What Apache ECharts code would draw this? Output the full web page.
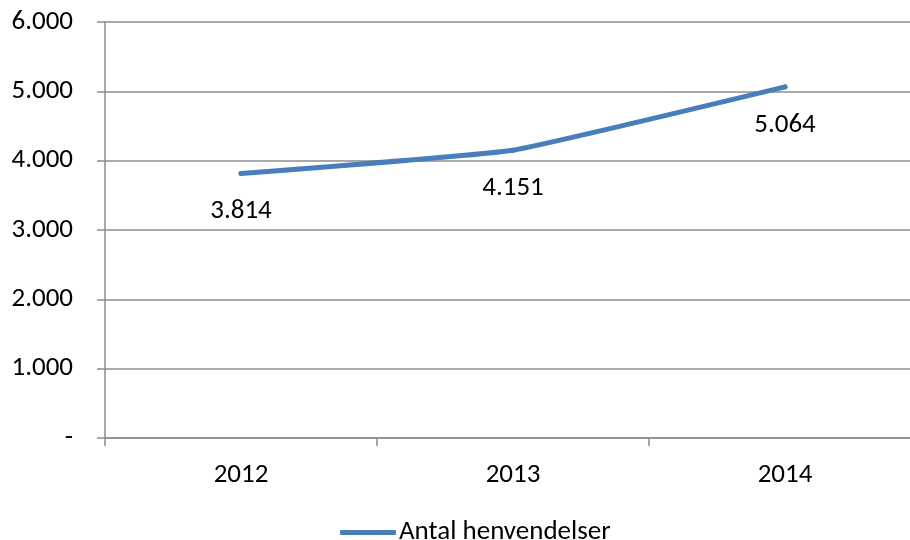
<!DOCTYPE html>
<html>
<head>
<meta charset="utf-8">
<script src="https://cdn.jsdelivr.net/npm/echarts@6/dist/echarts.min.js"></script>
<style>
  html, body { margin: 0; padding: 0; background: #fff; }
  #chart { width: 910px; height: 540px; }
</style>
</head>
<body>
<div id="chart"></div>
<script>
// data
const years = ['2012', '2013', '2014']
const henvendelser = [3814, 4151, 5064]
const seriesName = 'Antal henvendelser'

const font = 'Carlito, Lato, sans-serif'
const grey = '#8c8c8c'
const blue = '#4a7ebb'
const fs = 27

// dansk talformat: 3.814
function fmt(v) {
  if (v === 0) return '-'
  return String(v).replace(/\B(?=(\d{3})+(?!\d))/g, '.')
}

const chart = echarts.init(document.getElementById('chart'))
chart.setOption({
  animation: false,
  grid: { left: 105, top: 22, width: 816, height: 416, containLabel: false, outerBoundsMode: 'none' },
  legend: {
    top: 519,
    left: 340,
    padding: 0,
    data: [{ name: seriesName, icon: 'roundRect', itemStyle: { color: blue, opacity: 1 } }],
    itemWidth: 56,
    itemHeight: 5,
    textStyle: { fontFamily: font, fontSize: fs, color: '#000', padding: [0, 0, 0, -2] }
  },
  xAxis: {
    type: 'category',
    data: years,
    boundaryGap: true,
    axisLine: { lineStyle: { color: grey, width: 1.5 } },
    axisTick: { show: true, length: 8, lineStyle: { color: grey, width: 1.5 } },
    axisLabel: { fontFamily: font, fontSize: fs, color: '#000', margin: 24 }
  },
  yAxis: {
    type: 'value',
    min: 0,
    max: 6000,
    interval: 1000,
    axisLine: { show: true, lineStyle: { color: grey, width: 1.5 } },
    axisTick: { show: true, length: 8, lineStyle: { color: grey, width: 1.5 } },
    splitLine: { lineStyle: { color: grey, width: 1.5 } },
    axisLabel: {
      fontFamily: font, fontSize: fs, color: '#000', margin: 32,
      formatter: fmt
    }
  },
  series: [{
    name: seriesName,
    type: 'line',
    data: henvendelser,
    symbol: 'circle',
    symbolSize: 5,
    showSymbol: true,
    smooth: 0.1,
    lineStyle: { color: blue, width: 5, cap: 'round' },
    itemStyle: { color: blue },
    label: {
      show: true,
      position: 'bottom',
      distance: 22,
      fontFamily: font,
      fontSize: fs,
      color: '#000',
      formatter: p => fmt(p.value)
    }
  }]
})
</script>
</body>
</html>
